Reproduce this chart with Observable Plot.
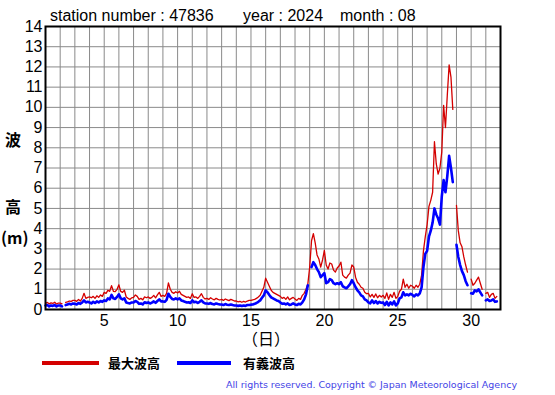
<!DOCTYPE html>
<html>
<head>
<meta charset="utf-8">
<script src="https://cdn.jsdelivr.net/npm/d3@7"></script>
<script src="https://cdn.jsdelivr.net/npm/@observablehq/plot@0.6"></script>
<style>
  html, body { margin: 0; padding: 0; background: #fff; }
  #chart { width: 555px; height: 395px; }
</style>
</head>
<body>
<div id="chart"></div>
<script>
// Time axis: day of month (August 2024), samples every 3 hours from day 1 00:00
const startDay = 1;
const samplesPerDay = 8;
const xTickLabels = [5, 10, 15, 20, 25, 30];
const yTickLabels = [0, 1, 2, 3, 4, 5, 6, 7, 8, 9, 10, 11, 12, 13, 14];
const gridDays = [1,2,3,4,5,6,7,8,9,10,11,12,13,14,15,16,17,18,19,20,21,22,23,24,25,26,27,28,29,30,31,32];

// 最大波高 (maximum wave height, m)
const maxWaveHeight = [
  0.30,0.35,0.28,0.33,0.30,0.36,0.27,0.32,
  0.32,0.28,null,0.35,0.38,0.42,0.40,0.45,
  0.45,0.40,0.50,0.42,0.55,0.80,0.55,0.60,
  0.62,0.58,0.65,0.55,0.68,0.60,0.72,0.65,
  0.85,0.80,0.95,0.90,1.18,0.90,0.88,1.00,
  1.22,0.90,0.85,0.95,0.62,0.55,0.50,0.58,
  0.60,0.72,0.65,0.50,0.55,0.48,0.62,0.58,
  0.62,0.55,0.60,0.70,0.58,0.72,0.85,0.65,
  0.70,0.65,0.80,1.32,1.00,0.85,0.80,0.88,
  0.82,0.90,0.75,0.70,0.65,0.60,0.62,0.55,
  0.78,0.60,0.62,0.55,0.65,0.78,0.60,0.52,
  0.55,0.50,0.58,0.52,0.48,0.55,0.50,0.47,
  0.50,0.45,0.52,0.48,0.44,0.50,0.46,0.42,
  0.42,0.38,0.40,0.36,0.40,0.37,0.42,0.45,
  0.45,0.48,0.50,0.55,0.62,0.70,0.90,1.10,
  1.55,1.35,1.15,0.95,0.85,0.80,0.75,0.70,
  0.65,0.55,0.60,0.50,0.62,0.48,0.55,0.60,
  0.52,0.45,0.55,0.50,0.70,0.80,1.00,1.27,
  2.10,3.40,3.75,3.30,2.70,2.50,2.10,2.45,
  2.92,2.20,2.00,2.30,2.25,1.95,1.85,2.05,
  2.15,2.34,1.70,1.60,1.55,1.70,1.80,2.20,
  2.10,1.60,1.35,1.25,1.10,1.05,0.85,0.78,
  0.80,0.62,0.75,0.60,0.77,0.58,0.70,0.62,
  0.70,0.55,0.82,0.50,0.75,0.60,0.85,0.55,
  0.65,0.90,1.00,1.50,1.10,1.25,1.05,1.20,
  1.15,1.05,1.20,1.10,1.25,1.70,2.90,3.60,
  4.20,5.10,5.40,5.80,8.30,7.20,6.70,7.00,
  7.80,10.10,9.00,10.60,12.10,11.50,9.90,null,
  5.15,3.90,3.30,3.10,2.60,2.20,1.85,null,
  1.50,1.20,1.30,1.45,1.60,1.30,1.00,null,
  0.80,0.85,0.60,0.75,0.80,0.55,0.65
];

// 有義波高 (significant wave height, m)
const sigWaveHeight = [
  0.20,0.22,0.15,0.20,0.18,0.22,0.15,0.20,
  0.20,0.15,null,0.22,0.25,0.28,0.25,0.30,
  0.28,0.25,0.32,0.28,0.35,0.45,0.35,0.38,
  0.35,0.30,0.38,0.32,0.40,0.35,0.42,0.38,
  0.45,0.42,0.55,0.50,0.72,0.55,0.52,0.62,
  0.75,0.55,0.50,0.55,0.35,0.32,0.30,0.35,
  0.35,0.42,0.38,0.28,0.30,0.25,0.36,0.32,
  0.35,0.30,0.34,0.40,0.33,0.42,0.50,0.40,
  0.40,0.38,0.48,0.78,0.62,0.52,0.50,0.55,
  0.50,0.55,0.45,0.42,0.38,0.35,0.36,0.32,
  0.45,0.36,0.38,0.32,0.38,0.45,0.35,0.30,
  0.30,0.28,0.32,0.27,0.25,0.30,0.27,0.25,
  0.25,0.22,0.27,0.24,0.22,0.25,0.22,0.20,
  0.20,0.18,0.20,0.17,0.20,0.18,0.22,0.22,
  0.24,0.25,0.28,0.32,0.38,0.45,0.58,0.70,
  0.95,0.85,0.72,0.60,0.55,0.50,0.45,0.42,
  0.35,0.28,0.30,0.25,0.30,0.22,0.25,0.30,
  0.25,0.22,0.28,0.25,0.35,0.50,0.75,1.20,
  null,2.10,2.34,2.20,2.00,1.85,1.60,1.70,
  1.80,1.30,1.35,1.50,1.45,1.30,1.25,1.30,
  1.25,1.35,1.15,1.10,1.05,1.15,1.25,1.45,
  1.30,1.10,0.95,0.85,0.70,0.65,0.50,0.45,
  0.35,0.30,0.45,0.32,0.42,0.30,0.38,0.33,
  0.35,0.22,0.38,0.20,0.35,0.25,0.40,0.20,
  0.30,0.55,0.60,0.85,0.70,0.75,0.70,0.78,
  0.72,0.65,0.75,0.70,0.80,1.10,2.10,2.75,
  2.90,3.60,3.90,4.30,5.00,4.70,4.50,4.20,
  5.60,6.40,5.80,6.60,7.60,7.00,6.30,null,
  3.20,2.60,2.20,1.90,1.70,1.40,1.20,null,
  0.80,0.78,0.95,0.90,1.00,0.85,0.70,null,
  0.45,0.50,0.42,0.45,0.50,0.38,0.40
];

const rows = maxWaveHeight.map((v, i) => ({
  t: startDay + i / samplesPerDay,
  hmax: v == null ? NaN : v,
  hs: sigWaveHeight[i] == null ? NaN : sigWaveHeight[i]
}));

const svg = Plot.plot({
  width: 555,
  height: 395,
  marginLeft: 45,
  marginRight: 55,
  marginTop: 26,
  marginBottom: 86,
  style: {fontFamily: "'Liberation Sans', Arial, sans-serif", fontSize: "16px", color: "#000", background: "#fff", overflow: "visible"},
  x: {domain: [1, 32], ticks: xTickLabels, tickSize: 0, tickPadding: 5, label: null},
  y: {domain: [0, 14], ticks: yTickLabels, tickSize: 0, tickPadding: 3, label: null},
  marks: [
    Plot.ruleX(gridDays, {stroke: "#8a8a8a", strokeWidth: 1}),
    Plot.ruleY(yTickLabels, {stroke: "#8a8a8a", strokeWidth: 1}),
    Plot.line(rows, {x: "t", y: "hmax", stroke: "#d40000", strokeWidth: 1.3}),
    Plot.line(rows, {x: "t", y: "hs", stroke: "#0000ff", strokeWidth: 2.6}),
    Plot.frame({stroke: "#000", strokeWidth: 2})
  ]
});

const s = d3.select(svg);
const sans = "'Liberation Sans', Arial, sans-serif";
const cjk = "'Noto Sans CJK JP', sans-serif";

function label(x, y, txt, opts = {}) {
  return s.append("text")
    .attr("x", x).attr("y", y)
    .attr("text-anchor", opts.anchor || "start")
    .attr("font-family", opts.family || sans)
    .attr("font-size", opts.size || 16)
    .attr("font-weight", opts.weight || "normal")
    .attr("fill", opts.fill || "#000")
    .text(txt);
}

// Title
label(50, 21, "station number : 47836");
label(243, 21, "year : 2024");
label(340, 21, "month : 08");

// Axis labels
label(266, 345, "（日）", {anchor: "middle", family: cjk});
label(13, 146, "波", {anchor: "middle", family: cjk, weight: "bold"});
label(13, 213, "高", {anchor: "middle", family: cjk, weight: "bold"});
label(1, 244, "(m)", {family: cjk, weight: "bold"});

// Legend
s.append("rect").attr("x", 42).attr("y", 361).attr("width", 57).attr("height", 4).attr("fill", "#d40000");
label(108, 368, "最大波高", {family: cjk, weight: "bold", size: 13});
s.append("rect").attr("x", 177).attr("y", 361).attr("width", 54).attr("height", 4).attr("fill", "#0000ff");
label(243, 368, "有義波高", {family: cjk, weight: "bold", size: 13});

// Copyright
label(226, 388, "All rights reserved. Copyright © Japan Meteorological Agency",
  {family: "'DejaVu Sans', sans-serif", size: 9.5, fill: "#4444e6"})
  .attr("textLength", 291).attr("lengthAdjust", "spacing");

document.getElementById("chart").appendChild(svg);
</script>
</body>
</html>
